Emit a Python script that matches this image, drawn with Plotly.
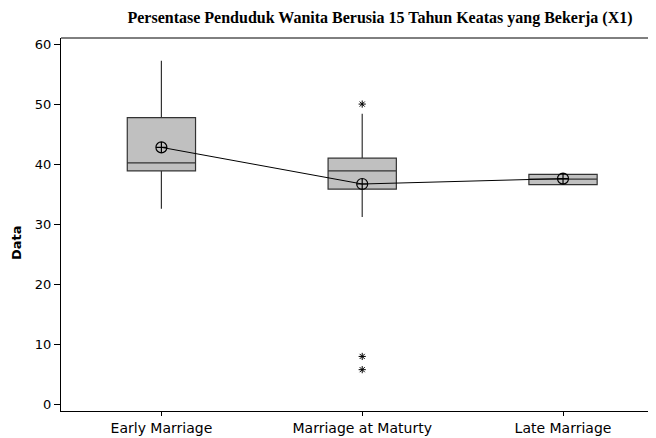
import plotly.graph_objects as go

categories = ["Early Marriage", "Marriage at Maturty", "Late Marriage"]
q1 = [38.9, 35.85, 36.6]
median = [40.2, 38.9, 37.5]
q3 = [47.75, 41.0, 38.3]
lower_whisker = [32.6, 31.2, 36.6]
upper_whisker = [57.2, 48.4, 38.3]
means = [42.8, 36.7, 37.6]
outlier_cats = ["Marriage at Maturty", "Marriage at Maturty", "Marriage at Maturty"]
outlier_vals = [50.0, 8.0, 5.8]
y_ticks = [0, 10, 20, 30, 40, 50, 60]
title_text = "Persentase Penduduk Wanita Berusia 15 Tahun Keatas yang Bekerja (X1)"
y_title = "Data"

# page body has an 8px default margin; figure is sized/offset to compensate
OFF = 8
W, H = 656 - OFF, 438 - OFF
ML, MR, MT, MB = 61 - OFF, 0, 38 - OFF, 27
pw = W - ML - MR
ph = H - MT - MB

fig = go.Figure()
fig.add_trace(go.Box(
    x=categories, q1=q1, median=median, q3=q3,
    lowerfence=lower_whisker, upperfence=upper_whisker,
    boxpoints=False, width=0.34, whiskerwidth=0,
    fillcolor="#c0c0c0", line=dict(color="#333333", width=1.2),
    showlegend=False, hoverinfo="skip",
))
fig.add_trace(go.Scatter(
    x=categories, y=means, mode="lines+markers",
    line=dict(color="black", width=1),
    marker=dict(symbol="circle-cross-open", size=11, color="black", line=dict(width=1.2)),
    showlegend=False,
))
fig.add_trace(go.Scatter(
    x=outlier_cats, y=outlier_vals, mode="markers",
    marker=dict(symbol="asterisk-open", size=6, color="black", line=dict(width=1, color="black")),
    showlegend=False,
))

fig.update_layout(
    width=W, height=H,
    margin=dict(l=ML, r=MR, t=MT, b=MB),
    paper_bgcolor="white", plot_bgcolor="white",
    font=dict(family="DejaVu Sans", size=13, color="black"),
    title=dict(text="<b>" + title_text + "</b>", x=(380 - OFF) / W, xanchor="center",
               y=1 - (17.5 - OFF) / H, yanchor="middle", yref="container",
               font=dict(family="Liberation Serif", size=16, color="black")),
    xaxis=dict(type="category", categoryorder="array", categoryarray=categories,
               range=[-0.5, 2.463], showline=True, linecolor="black", linewidth=1,
               ticks="outside", ticklen=4, tickcolor="black", showgrid=False,
               zeroline=False, automargin=False,
               tickfont=dict(family="DejaVu Sans", size=14)),
    yaxis=dict(range=[-1.08, 61.0], tickvals=y_ticks, showline=True, linecolor="black",
               linewidth=1, ticks="outside", ticklen=6, tickcolor="black",
               showgrid=False, zeroline=False, automargin=False,
               tickfont=dict(family="DejaVu Sans", size=13)),
    shapes=[dict(type="line", xref="paper", yref="paper", x0=0, x1=1, y0=1, y1=1,
                 line=dict(color="black", width=1))],
    annotations=[dict(text="<b>" + y_title + "</b>", xref="paper", yref="paper",
                      x=(17 - OFF - ML) / pw, y=(H - MB - (243 - OFF)) / ph, textangle=-90,
                      showarrow=False, xanchor="center", yanchor="middle",
                      font=dict(family="DejaVu Sans", size=13, color="black"))],
)

fig.write_html("out.html")
